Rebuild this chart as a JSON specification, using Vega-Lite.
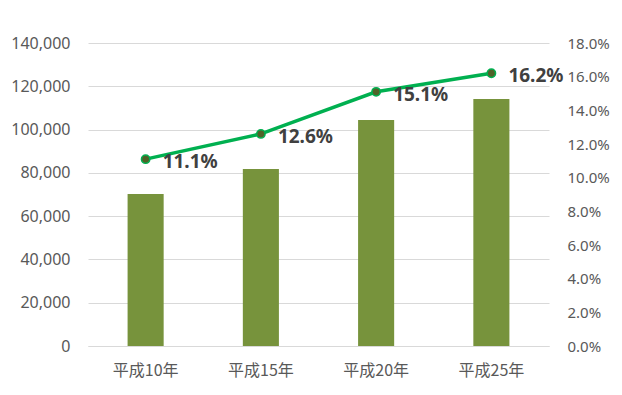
{
  "$schema": "https://vega.github.io/schema/vega-lite/v6.json",
  "width": 461,
  "height": 303,
  "autosize": {"type": "none"},
  "padding": {"left": 88, "top": 43, "right": 73, "bottom": 49},
  "background": "white",
  "config": {"view": {"stroke": null}, "font": "Noto Sans CJK JP"},
  "data": {"values": [
    {"year": "平成10年", "value": 70200, "rate": 0.111},
    {"year": "平成15年", "value": 81800, "rate": 0.126},
    {"year": "平成20年", "value": 104400, "rate": 0.151},
    {"year": "平成25年", "value": 114100, "rate": 0.162}
  ]},
  "encoding": {
    "x": {
      "field": "year", "type": "nominal", "sort": null,
      "scale": {"paddingInner": 0.687, "paddingOuter": 0.3435},
      "axis": {"title": null, "labelAngle": 0, "ticks": false, "domainColor": "#d9d9d9", "labelColor": "#595959", "labelFontSize": 16, "labelPadding": 16, "labelFont": "Noto Sans CJK JP"}
    }
  },
  "layer": [
    {
      "mark": {"type": "bar", "color": "#77933C"},
      "encoding": {
        "y": {
          "field": "value", "type": "quantitative",
          "scale": {"domain": [0, 140000]},
          "axis": {"title": null, "values": [0,20000,40000,60000,80000,100000,120000,140000], "format": ",.0f", "domain": false, "ticks": false, "gridColor": "#d9d9d9", "labelColor": "#595959", "labelFontSize": 16, "labelPadding": 18, "labelFont": "Noto Sans", "labelOverlap": false}
        }
      }
    },
    {
      "encoding": {"y": {"field": "rate", "type": "quantitative", "scale": {"domain": [0, 0.18]},
        "axis": {"orient": "right", "title": null, "format": ".1%", "values": [0,0.02,0.04,0.06,0.08,0.1,0.12,0.14,0.16,0.18], "domain": false, "ticks": false, "grid": false, "labelColor": "#595959", "labelFontSize": 15, "labelPadding": 18, "labelFont": "Noto Sans", "labelOverlap": false}}},
      "layer": [
        {
          "mark": {"type": "line", "color": "#00B050", "strokeWidth": 3.5}
        },
        {
          "mark": {"type": "point", "filled": true, "size": 70, "color": "#4F6228", "opacity": 1, "stroke": "#00B050", "strokeWidth": 1.5}
        },
        {
          "mark": {"type": "text", "align": "left", "baseline": "middle", "dx": 17, "dy": 3, "fontSize": 19, "fontWeight": "bold", "color": "#404040", "font": "Noto Sans"},
          "encoding": {"text": {"field": "rate", "format": ".1%"}}
        }
      ]
    }
  ],
  "resolve": {"scale": {"y": "independent"}}
}
